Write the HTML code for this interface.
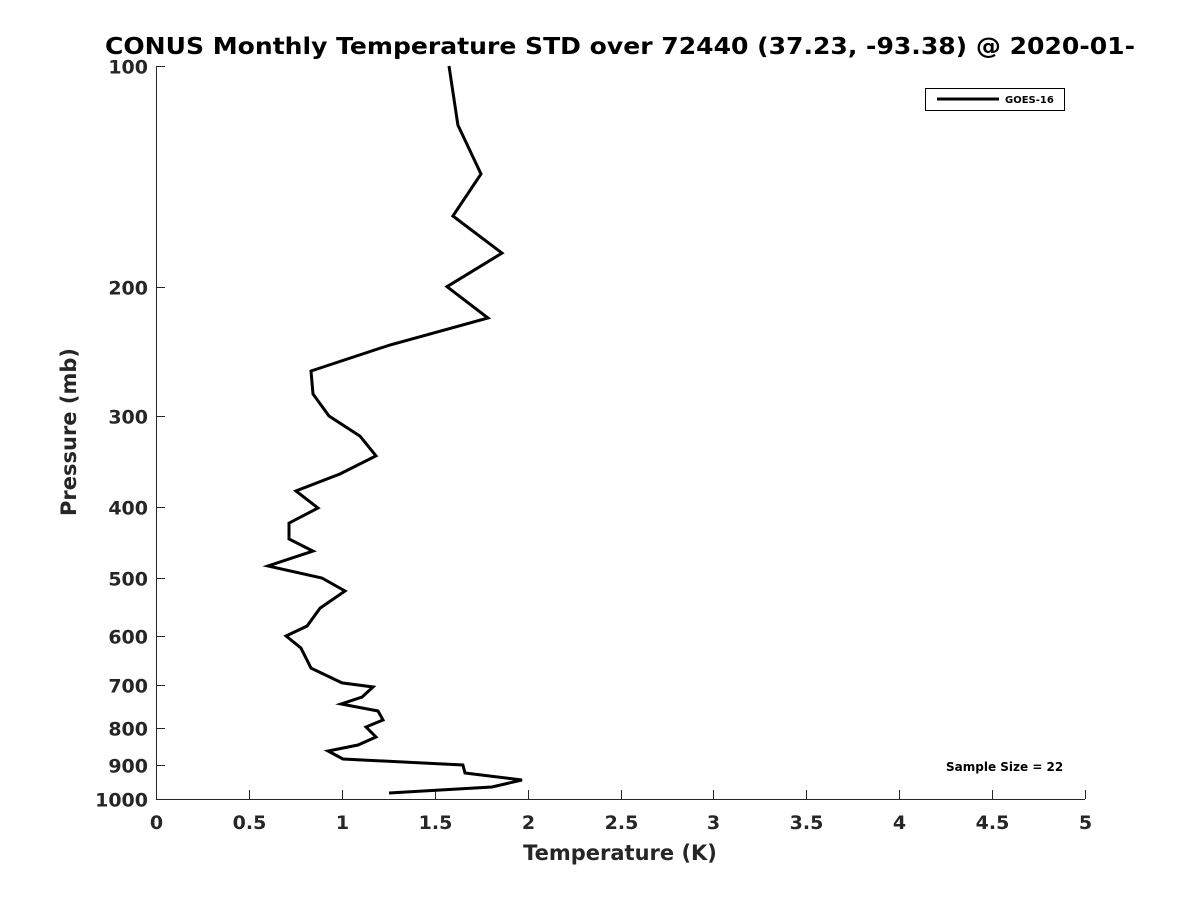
<!DOCTYPE html>
<html><head><meta charset="utf-8"><style>
body{margin:0;background:#fff;width:1200px;height:900px;overflow:hidden;font-family:"DejaVu Sans",sans-serif}
</style></head><body>
<svg width="1200" height="900" font-family="DejaVu Sans, sans-serif">
<text x="105" y="54" font-size="23" font-weight="bold" textLength="1030" lengthAdjust="spacingAndGlyphs">CONUS Monthly Temperature STD over 72440 (37.23, -93.38) @ 2020-01-</text>
<g id="axes"></g>
<polyline id="line" fill="none" stroke="#000" stroke-width="3" stroke-linejoin="miter"/>
<g>
<rect x="925.5" y="88.5" width="139" height="22" fill="#fff" stroke="#000" stroke-width="1"/>
<line x1="937" y1="99" x2="999" y2="99" stroke="#000" stroke-width="3"/>
<text x="1005" y="103" font-size="10" font-weight="bold">GOES-16</text>
</g>
<text x="946" y="771" font-size="12" font-weight="bold">Sample Size = 22</text>
<text x="620" y="860" text-anchor="middle" font-size="21" font-weight="bold" fill="#262626">Temperature (K)</text>
<text transform="translate(76,432) rotate(-90)" text-anchor="middle" font-size="21" font-weight="bold" fill="#262626">Pressure (mb)</text>
</svg>
<script>
const temps=[1.577,1.625,1.749,1.598,1.862,1.566,1.787,1.259,0.834,0.845,0.931,1.098,1.184,0.990,0.753,0.872,0.716,0.716,0.845,0.603,0.893,1.017,0.883,0.813,0.700,0.780,0.834,1.001,1.168,1.109,0.996,1.195,1.222,1.130,1.184,1.087,0.926,1.006,1.652,1.663,1.970,1.808,1.254];
const pressures=[100,120.4,140.4,160.2,180,200,220.7,240.2,260.7,280.2,300.3,319.8,340.4,360.3,380,400.9,420.3,441.9,459,481,499.5,520.3,549,580.7,599.2,622.3,662.8,694.5,703.4,725.9,742,758.6,780.2,797.7,823,843.9,860,882,898.8,921.5,942.1,962.9,981.3];
const xTicks=[0,0.5,1,1.5,2,2.5,3,3.5,4,4.5,5];
const xTickLabels=["0","0.5","1","1.5","2","2.5","3","3.5","4","4.5","5"];
const yTicks=[100,200,300,400,500,600,700,800,900,1000];
const X0=156,X1=1085,Y0=66,Y1=799;
const xs=v=>X0+(v-0)/(5-0)*(X1-X0);
const ys=p=>Y0+(Math.log10(p)-2)*(Y1-Y0);
const NS="http://www.w3.org/2000/svg";
const g=document.getElementById('axes');
function mk(t,a){const e=document.createElementNS(NS,t);for(const k in a)e.setAttribute(k,a[k]);g.appendChild(e);return e;}
const xa=mk('line',{x1:X0,y1:Y1+0.5,x2:X1,y2:Y1+0.5,stroke:'#262626','stroke-width':1});


const ya=mk('line',{x1:X0+0.5,y1:Y0,x2:X0+0.5,y2:Y1,stroke:'#262626','stroke-width':1});


xTicks.forEach((v,i)=>{const x=Math.round(xs(v))+0.5;
mk('line',{x1:x,y1:Y1,x2:x,y2:Y1-9,stroke:'#262626'});
const t=mk('text',{x:x,y:Y1+30,'text-anchor':'middle','font-size':19,'font-weight':'bold',fill:'#262626'});
t.textContent=xTickLabels[i];

});
yTicks.forEach(p=>{const y=Math.round(ys(p))+0.5;
mk('line',{x1:X0,y1:y,x2:X0+9,y2:y,stroke:'#262626'});
const t=mk('text',{x:X0-8,y:y+7,'text-anchor':'end','font-size':19,'font-weight':'bold',fill:'#262626'});
t.textContent=p;

});
document.getElementById('line').setAttribute('points',temps.map((t,i)=>xs(t).toFixed(1)+','+ys(pressures[i]).toFixed(1)).join(' '));
</script>
</body></html>
